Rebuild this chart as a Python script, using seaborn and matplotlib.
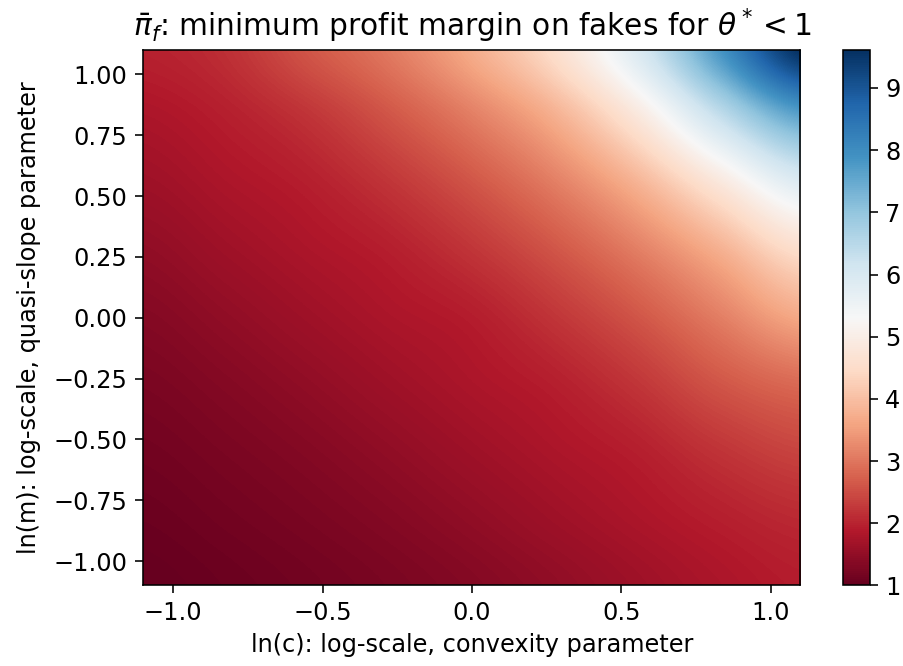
import numpy as np
import matplotlib
matplotlib.use("Agg")
import matplotlib.pyplot as plt
import seaborn as sns

# Grid coordinates: ln(c) along x, ln(m) along y
ln_c = [-1.1, -0.825, -0.55, -0.275, 0.0, 0.275, 0.55, 0.825, 1.1]
ln_m = [-1.1, -0.825, -0.55, -0.275, 0.0, 0.275, 0.55, 0.825, 1.1]

# Minimum profit margin on fakes; one row per ln(m) value, columns follow ln(c)
margin_m_neg110 = [1.00, 1.07, 1.15, 1.24, 1.35, 1.49, 1.65, 1.80, 1.92]
margin_m_neg083 = [1.07, 1.15, 1.24, 1.35, 1.49, 1.65, 1.80, 1.95, 2.08]
margin_m_neg055 = [1.15, 1.24, 1.35, 1.49, 1.65, 1.80, 1.95, 2.20, 2.40]
margin_m_neg028 = [1.24, 1.35, 1.49, 1.65, 1.80, 1.95, 2.22, 2.60, 2.85]
margin_m_000 = [1.35, 1.49, 1.65, 1.80, 1.93, 2.22, 2.60, 3.10, 3.65]
margin_m_028 = [1.49, 1.65, 1.80, 1.95, 2.22, 2.60, 3.10, 3.75, 4.55]
margin_m_055 = [1.65, 1.80, 1.95, 2.22, 2.60, 3.10, 3.80, 4.80, 5.85]
margin_m_083 = [1.80, 1.95, 2.20, 2.60, 3.10, 3.75, 4.80, 6.30, 7.60]
margin_m_110 = [1.98, 2.15, 2.60, 3.05, 3.70, 4.55, 5.90, 7.80, 9.61]

x_ticks = [-1.0, -0.5, 0.0, 0.5, 1.0]
y_ticks = [-1.0, -0.75, -0.5, -0.25, 0.0, 0.25, 0.5, 0.75, 1.0]
cbar_ticks = [1, 2, 3, 4, 5, 6, 7, 8, 9]

sns.set_theme(style="ticks")
plt.rcParams.update({
    "font.family": ["DejaVu Sans"],
    "axes.linewidth": 0.8,
    "xtick.major.size": 4,
    "ytick.major.size": 4,
    "xtick.major.width": 0.8,
    "ytick.major.width": 0.8,
    "xtick.color": "black",
    "ytick.color": "black",
    "axes.edgecolor": "black",
    "text.color": "black",
})

Z = np.array([margin_m_neg110, margin_m_neg083, margin_m_neg055, margin_m_neg028,
              margin_m_000, margin_m_028, margin_m_055, margin_m_083, margin_m_110])

fig = plt.figure(figsize=(903 / 144, 666 / 144), dpi=144)
ax = fig.add_axes([0.1588, 0.1209, 0.7276, 0.8040])
cax = fig.add_axes([0.9336, 0.1209, 0.0299, 0.8040])

# pixel centres sit on the grid coordinates
half_x = (ln_c[1] - ln_c[0]) / 2
half_y = (ln_m[1] - ln_m[0]) / 2
extent = [ln_c[0] - half_x, ln_c[-1] + half_x, ln_m[0] - half_y, ln_m[-1] + half_y]

cmap = sns.color_palette("RdBu", as_cmap=True)
img = ax.imshow(Z, cmap=cmap, origin="lower", extent=extent, aspect="auto",
                interpolation="catrom", vmin=Z.min(), vmax=Z.max())
ax.set_xlim(-1.1, 1.1)
ax.set_ylim(-1.1, 1.1)
ax.set_xticks(x_ticks)
ax.set_yticks(y_ticks)
ax.tick_params(labelsize=12, colors="black", labelcolor="black", pad=4)
ax.set_xlabel("ln(c): log-scale, convexity parameter", fontsize=12, color="black", labelpad=4)
ax.set_ylabel("ln(m): log-scale, quasi-slope parameter", fontsize=12, color="black", labelpad=6)
ax.set_title(r"$\bar{\pi}_f$: minimum profit margin on fakes for $\theta^*<1$",
             fontsize=14.8, color="black", pad=7)

cb = fig.colorbar(img, cax=cax, ticks=cbar_ticks)
cb.ax.tick_params(labelsize=12, colors="black", labelcolor="black", size=4, width=0.8)
cb.outline.set_linewidth(0.8)

fig.savefig("out.png", dpi=144)
